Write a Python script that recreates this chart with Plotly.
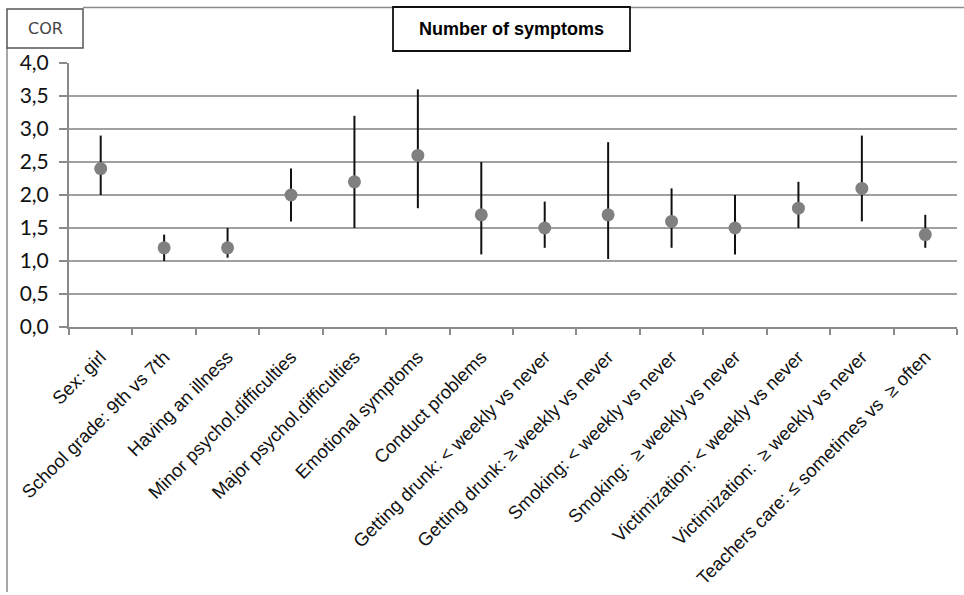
import plotly.graph_objects as go

categories = [
    "Sex: girl",
    "School grade: 9th vs 7th",
    "Having an illness",
    "Minor psychol.difficulties",
    "Major psychol.difficulties",
    "Emotional symptoms",
    "Conduct problems",
    "Getting drunk: < weekly vs never",
    "Getting drunk: \u2265 weekly vs never",
    "Smoking: < weekly vs never",
    "Smoking: \u00a0\u2265 weekly vs never",
    "Victimization: < weekly vs never",
    "Victimization: \u00a0\u2265 weekly vs never",
    "Teachers care: \u2264 sometimes vs \u00a0\u2265 often",
]
cor = [2.4, 1.2, 1.2, 2.0, 2.2, 2.6, 1.7, 1.5, 1.7, 1.6, 1.5, 1.8, 2.1, 1.4]
ci_low = [2.0, 1.0, 1.05, 1.6, 1.5, 1.8, 1.1, 1.2, 1.03, 1.2, 1.1, 1.5, 1.6, 1.2]
ci_high = [2.9, 1.4, 1.5, 2.4, 3.2, 3.6, 2.5, 1.9, 2.8, 2.1, 2.0, 2.2, 2.9, 1.7]
y_ticks = [0, 0.5, 1.0, 1.5, 2.0, 2.5, 3.0, 3.5, 4.0]

err_plus = [h - c for h, c in zip(ci_high, cor)]
err_minus = [c - l for c, l in zip(cor, ci_low)]

fig = go.Figure()
fig.add_trace(go.Scatter(
    x=categories, y=cor, mode="markers",
    marker=dict(color="#808080", size=13),
    error_y=dict(type="data", symmetric=False, array=err_plus, arrayminus=err_minus,
                 color="#111111", thickness=2, width=0),
    showlegend=False,
))

W0, W1 = 69, 957
H0, H1 = 63, 327
def px(x):
    return (x - W0) / (W1 - W0)
def py(y):
    return (H1 - y) / (H1 - H0)

shapes = [
    dict(type="line", xref="paper", yref="paper", x0=px(83), x1=px(964), y0=py(7.5), y1=py(7.5),
         line=dict(color="#8a8a8a", width=1.5)),
    dict(type="line", xref="paper", yref="paper", x0=px(7), x1=px(7), y0=py(48), y1=py(592),
         line=dict(color="#8a8a8a", width=1.5)),
    dict(type="rect", xref="paper", yref="paper", x0=px(7), x1=px(83), y0=py(9), y1=py(48),
         line=dict(color="#555555", width=1.5), fillcolor="white"),
    dict(type="rect", xref="paper", yref="paper", x0=px(393), x1=px(630), y0=py(7), y1=py(51),
         line=dict(color="#111111", width=1.8), fillcolor="white"),
]
annotations = [
    dict(text="COR", xref="paper", yref="paper", x=px(45), y=py(29), showarrow=False,
         font=dict(family="DejaVu Sans", size=16, color="#444444"), xanchor="center", yanchor="middle"),
    dict(text="<b>Number of symptoms</b>", xref="paper", yref="paper", x=px(511), y=py(29), showarrow=False,
         font=dict(family="Liberation Sans", size=18, color="#000000"), xanchor="center", yanchor="middle"),
]

fig.update_layout(
    width=964, height=595,
    margin=dict(l=W0, r=964 - W1, t=H0, b=595 - H1, autoexpand=False),
    paper_bgcolor="white", plot_bgcolor="white",
    separators=", ",
    shapes=shapes, annotations=annotations,
    xaxis=dict(
        type="category", showgrid=False, showline=True, linecolor="#8a8a8a", linewidth=2,
        ticks="outside", tickson="boundaries", ticklen=6, tickcolor="#8a8a8a", tickwidth=1.5,
        tickangle=-45, tickfont=dict(family="Liberation Sans", size=18.5, color="#111111"),
        ticklabelstandoff=10,
        range=[-0.5, len(categories) - 0.5], automargin=False,
    ),
    yaxis=dict(
        range=[0, 4], tickvals=y_ticks, tickformat=".1f",
        showgrid=True, gridcolor="#a0a0a0", gridwidth=1.5,
        showline=True, linecolor="#8a8a8a", linewidth=2,
        ticks="outside", ticklen=8, tickcolor="#8a8a8a", tickwidth=1.5,
        tickfont=dict(family="Lato", size=21, color="#111111"),
        ticklabelstandoff=6,
        zeroline=False, automargin=False,
    ),
)

fig.write_html("out.html", config={"displayModeBar": False},
               post_script="document.body.style.margin='0';document.body.style.padding='0';")
